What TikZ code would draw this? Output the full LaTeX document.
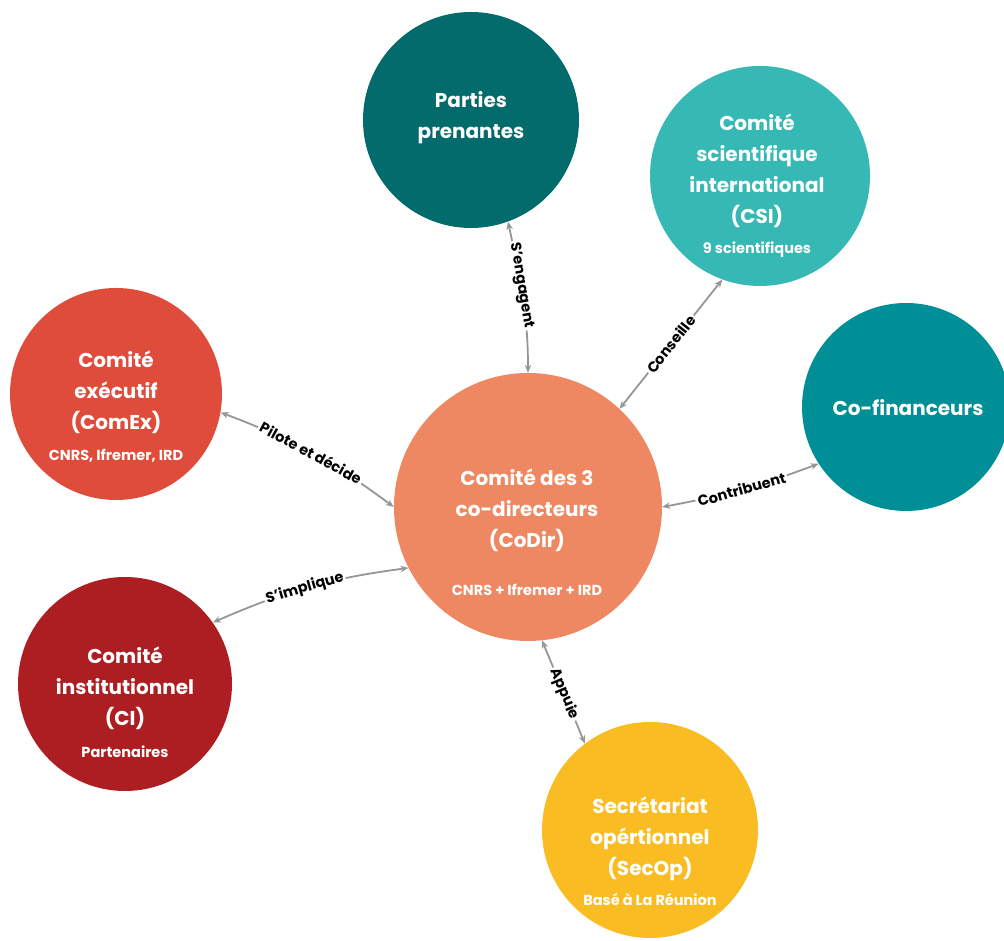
\documentclass[tikz,border=0pt]{standalone}
\usepackage{fontspec}
\setmainfont{Poppins}
\usetikzlibrary{arrows.meta}
\definecolor{cparties}{RGB}{3,107,107}
\definecolor{ccsi}{RGB}{54,185,180}
\definecolor{ccofin}{RGB}{0,143,150}
\definecolor{ccomex}{RGB}{223,76,59}
\definecolor{ccodir}{RGB}{238,136,98}
\definecolor{cci}{RGB}{173,30,35}
\definecolor{csecop}{RGB}{249,189,35}
\definecolor{linegray}{RGB}{150,150,150}
\tikzset{
  circ/.style={circle, inner sep=0pt, minimum size=#1},
  ttl/.style={text=white, align=center, font=\bfseries\fontsize{20}{31}\selectfont, inner sep=0pt},
  sub/.style={text=white, font=\bfseries\fontsize{14.5}{16}\selectfont, inner sep=0pt},
  conn/.style={draw=linegray, line width=1.8pt, {Stealth[length=8pt,width=6.5pt]}-{Stealth[length=8pt,width=6.5pt]}},
  lbl/.style={fill=white, text=black, font=\bfseries\fontsize{14.5}{14.5}\selectfont, inner sep=2pt, sloped}
}
\begin{document}
\begin{tikzpicture}[x=1pt,y=1pt]
\useasboundingbox (0,0) rectangle (1004,941);
\clip (0,0) rectangle (1004,941);
% circles
\node[circ=216pt, fill=cparties] (parties) at (471,821) {};
\node[circ=220pt, fill=ccsi] (csi) at (760,765) {};
\node[circ=208pt, fill=ccofin] (cofin) at (906,534) {};
\node[circ=212pt, fill=ccomex] (comex) at (116,547) {};
\node[circ=268pt, fill=ccodir] (codir) at (528,434) {};
\node[circ=214pt, fill=cci] (ci) at (125,257) {};
\node[circ=216pt, fill=csecop] (secop) at (650,111) {};
% texts
\node[ttl] (parties-t) at (471,823) {Parties\\prenantes};
\node[ttl] (csi-t) at (757,770) {Comité\\scientifique\\international\\(CSI)};
\node[sub] (csi-s) at (757,691) {9 scientifiques};
\node[ttl] (cofin-t) at (908,533) {Co-financeurs};
\node[ttl] (comex-t) at (116,549) {Comité\\exécutif\\(ComEx)};
\node[sub] (comex-s) at (116,485) {CNRS, Ifremer, IRD};
\node[ttl] (codir-t) at (527,431) {Comité des 3\\co-directeurs\\(CoDir)};
\node[sub] (codir-s) at (527,351) {CNRS + Ifremer + IRD};
\node[ttl] (ci-t) at (125,253) {Comité\\institutionnel\\(CI)};
\node[sub] (ci-s) at (125,189) {Partenaires};
\node[ttl] (secop-t) at (650,102) {Secrétariat\\opértionnel\\(SecOp)};
\node[sub] (secop-s) at (650,41) {Basé à La Réunion};
% connectors
\draw[conn] (parties.-70) to[out=-78,in=90] node[lbl,pos=0.42] (l1) {S'engagent} (codir.90);
\draw[conn] (csi.-110) -- node[lbl,pos=0.5] (l2) {Conseille} (codir.47);
\draw[conn] (comex.-10) to[bend left=8] node[lbl,pos=0.5] (l3) {Pilote et décide} (codir.180);
\draw[conn] (codir.-153) to[bend right=8] node[lbl,pos=0.52] (l4) {S'implique} (ci.35);
\draw[conn] (codir.0) to[bend right=5] node[lbl,pos=0.5] (l5) {Contribuent} (cofin.-147);
\draw[conn] (codir.-84) -- node[lbl,pos=0.52] (l6) {Appuie} (secop.127);
\end{tikzpicture}
\end{document}
